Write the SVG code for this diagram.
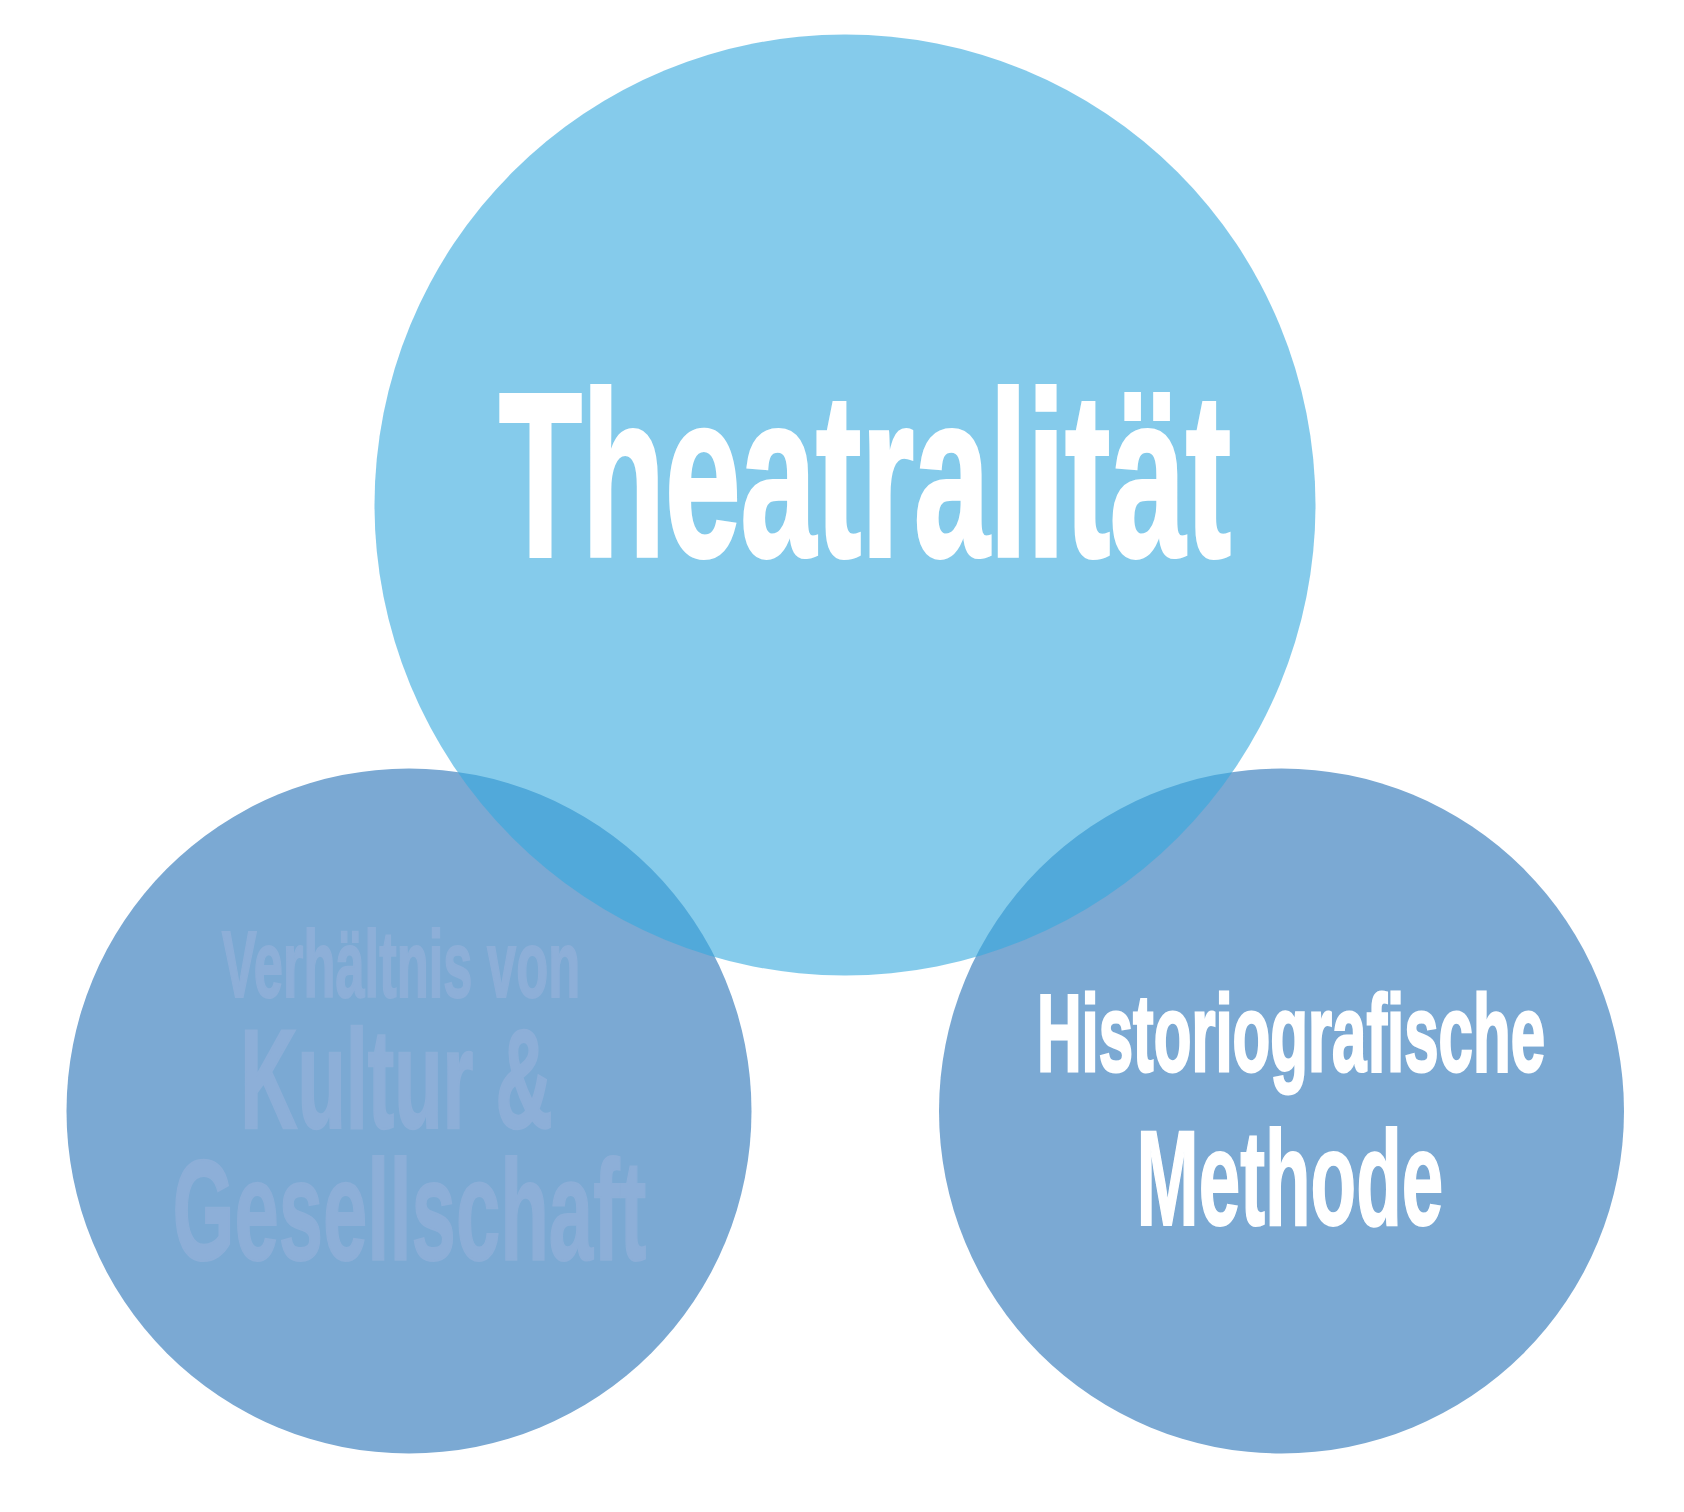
<svg xmlns="http://www.w3.org/2000/svg" width="1684" height="1512" viewBox="0 0 1684 1512">
  <style>
    .base { fill: #7BA9D3; }
    .top { fill: #37A9DE; fill-opacity: 0.606; }
    text { font-family: "Liberation Sans", Arial, sans-serif; font-weight: bold; stroke-linejoin: miter; }
    .white { fill: #FFFFFF; stroke: #FFFFFF; }
    .faint { fill: #8DAFD8; stroke: #8DAFD8; }
  </style>
  <rect x="0" y="0" width="1684" height="1512" fill="#FFFFFF"/>
  <g id="node-kultur">
    <circle class="base" cx="409" cy="1111" r="342.5"/>
  </g>
  <g id="node-methode">
    <circle class="base" cx="1281.5" cy="1111" r="342.5"/>
  </g>
  <g id="node-theatralitaet">
    <circle class="top" cx="845" cy="505" r="470.5"/>
    <text class="white" x="499" y="556" font-size="234.6" stroke-width="4" textLength="732" lengthAdjust="spacingAndGlyphs">Theatralität</text>
  </g>
  <g id="label-kultur">
    <text class="faint" x="221.7" y="997" font-size="94" stroke-width="2" textLength="358.6" lengthAdjust="spacingAndGlyphs">Verhältnis von</text>
    <text class="faint" x="240.2" y="1128.2" font-size="141.8" stroke-width="2.5" textLength="312.5" lengthAdjust="spacingAndGlyphs">Kultur &amp;</text>
    <text class="faint" x="172.5" y="1259.5" font-size="143.4" stroke-width="2" textLength="473.7" lengthAdjust="spacingAndGlyphs">Gesellschaft</text>
  </g>
  <g id="label-methode">
    <text class="white" x="1037" y="1071" font-size="109" stroke-width="3" textLength="508" lengthAdjust="spacingAndGlyphs">Historiografische</text>
    <text class="white" x="1136.6" y="1224.7" font-size="135.5" stroke-width="2" textLength="306.6" lengthAdjust="spacingAndGlyphs">Methode</text>
  </g>
  <g id="connectors"/>
</svg>
